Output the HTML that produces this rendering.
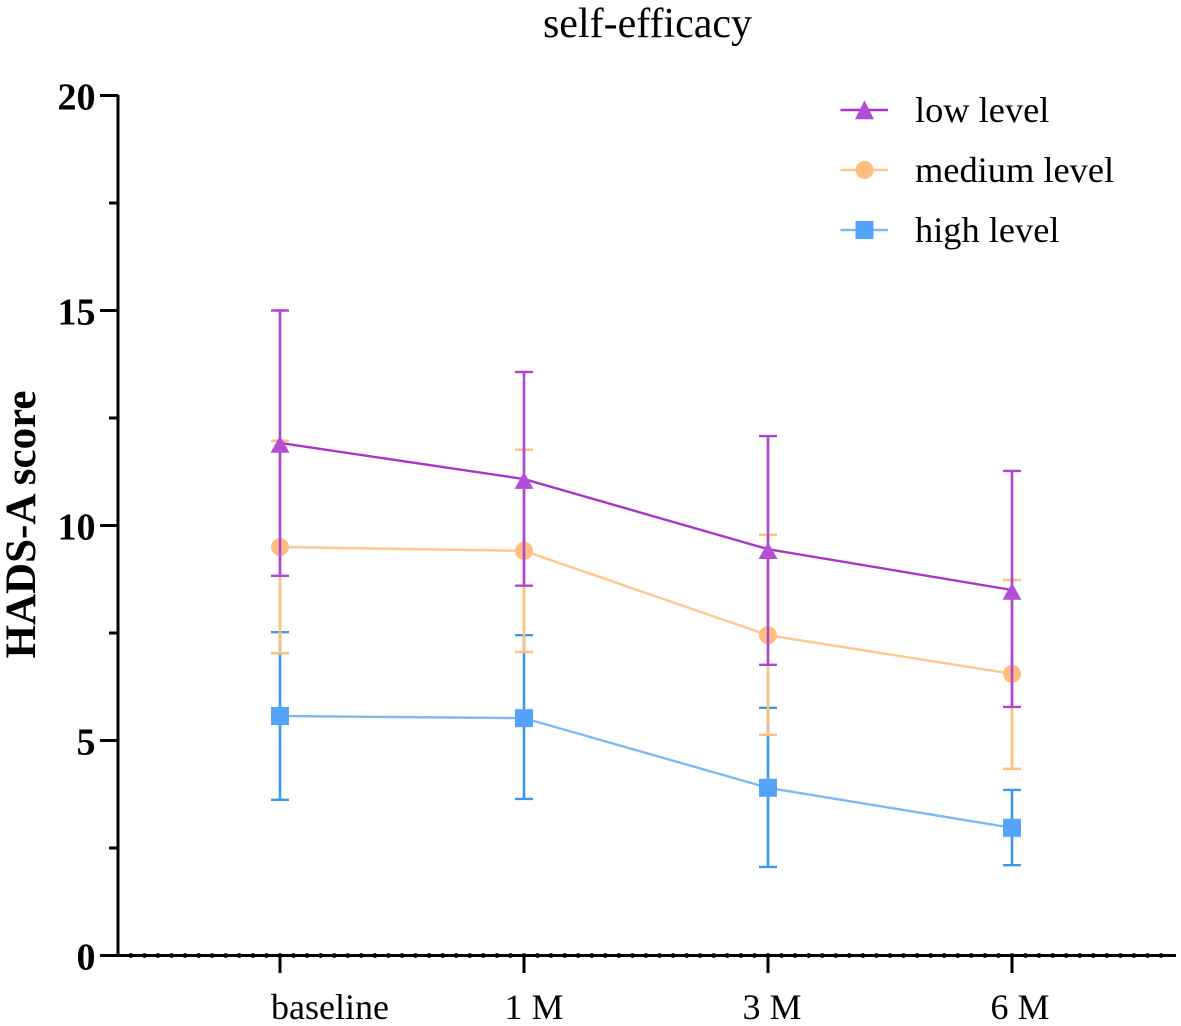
<!DOCTYPE html>
<html lang="en">
<head>
<meta charset="utf-8">
<title>self-efficacy</title>
<style>
  html, body { margin: 0; padding: 0; background: #fff; }
  svg { display: block; font-family: "Liberation Serif", serif; }
</style>
</head>
<body>
<svg id="chart" xmlns="http://www.w3.org/2000/svg" width="1181" height="1026" viewBox="0 0 1181 1026"></svg>
<script>
const categories = ['baseline', '1 M', '3 M', '6 M'];
const yTicks = [0, 5, 10, 15, 20];
const yMinorTicks = [2.5, 7.5, 12.5, 17.5];

const seriesNames = ['high level', 'medium level', 'low level'];
const highMean = [5.57, 5.52, 3.90, 2.97];
const highUpper = [7.52, 7.45, 5.76, 3.85];
const highLower = [3.62, 3.64, 2.06, 2.10];
const mediumMean = [9.50, 9.41, 7.45, 6.55];
const mediumUpper = [11.97, 11.76, 9.78, 8.73];
const mediumLower = [7.03, 7.06, 5.13, 4.34];
const lowMean = [11.92, 11.08, 9.45, 8.50];
const lowUpper = [15.00, 13.57, 12.08, 11.27];
const lowLower = [8.83, 8.60, 6.76, 5.78];

const svg = document.getElementById('chart');
const NS = 'http://www.w3.org/2000/svg';

function yScale(v) { return 955.5 - v * 43; }
function xScale(i) { return 280 + i * 244; }

function make(tag, attrs, parent) {
  const el = document.createElementNS(NS, tag);
  for (const k in attrs) el.setAttribute(k, attrs[k]);
  (parent || svg).appendChild(el);
  return el;
}

function drawMarker(kind, cx, cy, fill, parent, triTop, triBottom) {
  if (kind === 'triangle') {
    return make('polygon', { points: (cx - 9) + ',' + (cy + triBottom) + ' ' + (cx + 9) + ',' + (cy + triBottom) + ' ' + cx + ',' + (cy - triTop), fill: fill, stroke: fill, 'stroke-width': 0.6 }, parent);
  }
  if (kind === 'circle') {
    return make('circle', { cx: cx, cy: cy, r: 9, fill: fill }, parent);
  }
  return make('rect', { x: cx - 9, y: cy - 9, width: 18, height: 18, fill: fill }, parent);
}

/* axes */
const axes = make('g', {});



const yAxisLine = make('line', { x1: 118, x2: 118, y1: 95, y2: 957, stroke: '#000', 'stroke-width': 3 }, axes);



const xAxisLine = make('line', { x1: 100, x2: 1176, y1: 955.5, y2: 955.5, stroke: '#000', 'stroke-width': 3 }, axes);



yTicks.forEach(function (t) {
  const y = yScale(t);
  const tick = make('line', { x1: 100, x2: 118, y1: y, y2: y, stroke: '#000', 'stroke-width': 3 }, axes);
  
  
  const label = make('text', { x: 95.5, y: y + 14, 'text-anchor': 'end', 'font-size': 38, 'font-weight': 'bold', fill: '#000' }, axes);
  label.textContent = String(t);
  
  
});

yMinorTicks.forEach(function (t) {
  const y = yScale(t);
  const tick = make('line', { x1: 109, x2: 118, y1: y, y2: y, stroke: '#000', 'stroke-width': 3 }, axes);
  
  
});

/* dotted minor marks along the whole x axis */
for (let k = -11; k <= 65; k++) {
  const dot = make('circle', { cx: 280 + k * 244 / 18, cy: 955.5, r: 2.4, fill: '#000' }, axes);
  
  
}

/* the original labels are not centred under their ticks */
const labelNudge = [50, 10, 4, 8];
categories.forEach(function (c, i) {
  const x = xScale(i);
  const tick = make('line', { x1: x, x2: x, y1: 955, y2: 973, stroke: '#000', 'stroke-width': 3 }, axes);
  
  
  const label = make('text', { x: x + labelNudge[i], y: 1019, 'text-anchor': 'middle', 'font-size': 36, fill: '#000' }, axes);
  label.textContent = c;
  
  
});

const yTitle = make('text', { x: 0, y: 0, transform: 'translate(35,524.5) rotate(-90)', 'text-anchor': 'middle', 'font-size': 43, 'font-weight': 'bold', fill: '#000' });
yTitle.textContent = 'HADS-A score';



const chartTitle = make('text', { x: 647.5, y: 37, 'text-anchor': 'middle', 'font-size': 42, fill: '#000' });
chartTitle.textContent = 'self-efficacy';



/* series, bottom of the stack first */
const means = [highMean, mediumMean, lowMean];
const uppers = [highUpper, mediumUpper, lowUpper];
const lowers = [highLower, mediumLower, lowLower];
const markerKinds = ['square', 'circle', 'triangle'];
const lineColors = ['#7DB9F7', '#FFC88E', '#A935CB'];
const barColors = ['#3A97F2', '#FFBE7A', '#B044D6'];
const markerColors = ['#55A2FB', '#FFBE80', '#B14FD6'];

means.forEach(function (mean, s) {
  const group = make('g', {});
  
  

  categories.forEach(function (c, i) {
    const x = xScale(i);
    const top = yScale(uppers[s][i]);
    const bottom = yScale(lowers[s][i]);
    const stem = make('line', { x1: x, x2: x, y1: top, y2: bottom, stroke: barColors[s], 'stroke-width': 2.6 }, group);
    
    
    const capTop = make('line', { x1: x - 9, x2: x + 9, y1: top, y2: top, stroke: barColors[s], 'stroke-width': 2.4 }, group);
    
    
    const capBottom = make('line', { x1: x - 9, x2: x + 9, y1: bottom, y2: bottom, stroke: barColors[s], 'stroke-width': 2.4 }, group);
    
    
  });

  const points = mean.map(function (v, i) { return xScale(i) + ',' + yScale(v); }).join(' ');
  const line = make('polyline', { points: points, fill: 'none', stroke: lineColors[s], 'stroke-width': 2.4 }, group);
  
  

  mean.forEach(function (v, i) {
    const marker = drawMarker(markerKinds[s], xScale(i), yScale(v), markerColors[s], group, 6.5, 9.5);
    
    
  });
});

/* legend */
const legend = make('g', {});


[2, 1, 0].forEach(function (s, row) {
  const y = 110 + row * 60;
  const entry = make('g', {}, legend);
  
  
  make('line', { x1: 840.5, x2: 888, y1: y, y2: y, stroke: lineColors[s], 'stroke-width': 2.4 }, entry);
  drawMarker(markerKinds[s], 864.5, y, markerColors[s], entry, 9, 9);
  const label = make('text', { x: 915, y: y + 12, 'font-size': 36.4, fill: '#000' }, entry);
  label.textContent = seriesNames[s];
});
</script>
</body>
</html>
